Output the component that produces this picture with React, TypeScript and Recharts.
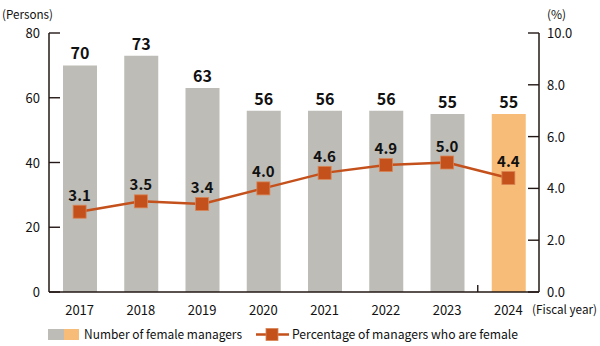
import React from 'react';
import { ComposedChart, Bar, Line, XAxis, YAxis, Cell, LabelList } from 'recharts';

const years = ['2017', '2018', '2019', '2020', '2021', '2022', '2023', '2024'];
const femaleManagers = [70, 73, 63, 56, 56, 56, 55, 55];
const femaleRatio = [3.1, 3.5, 3.4, 4.0, 4.6, 4.9, 5.0, 4.4];
const leftTicks = [0, 20, 40, 60, 80];
const rightTicks = [0, 2, 4, 6, 8, 10];

const data = years.map((y, i) => ({ year: y, managers: femaleManagers[i], ratio: femaleRatio[i] }));

const FONT = '"Noto Sans CJK JP", "Noto Sans", sans-serif';
const AXIS = '#231815';
const GRAY = '#BDBCB6';
const ORANGE = '#F7BD78';
const RED = '#C4501B';

const LeftTick = (props: any) => {
  const { x, y, payload } = props;
  return (
    <g>
      <line x1={x} x2={x + 11} y1={y} y2={y} stroke={AXIS} strokeWidth={1.4} />
      <text x={x - 9} y={y} dy={5} textAnchor="end" fontSize={13} fill="#111" fontFamily={FONT}>
        {payload.value}
      </text>
    </g>
  );
};

const RightTick = (props: any) => {
  const { x, y, payload } = props;
  return (
    <g>
      <line x1={x - 11} x2={x} y1={y} y2={y} stroke={AXIS} strokeWidth={1.4} />
      <text x={x + 8} y={y} dy={5} textAnchor="start" fontSize={13} fill="#111" fontFamily={FONT}>
        {Number(payload.value).toFixed(1)}
      </text>
    </g>
  );
};

const XTick = (props: any) => {
  const { x, y, payload, index } = props;
  const band = 490 / years.length;
  return (
    <g>
      {index === years.length - 1 && (
        <line x1={x - band / 2} x2={x - band / 2} y1={y} y2={y - 7} stroke={AXIS} strokeWidth={1.4} />
      )}
      <text x={x} y={y} dy={23} textAnchor="middle" fontSize={13} fill="#111" fontFamily={FONT}>
        {payload.value}
      </text>
    </g>
  );
};

const SquareDot = (props: any) => {
  const { cx, cy, index } = props;
  return (
    <rect key={`dot-${index}`} x={cx - 6.5} y={cy - 6.5} width={13} height={13} fill={RED} stroke="#D98455" strokeWidth={0.8} />
  );
};

export default function App() {
  return (
    <div style={{ position: 'absolute', left: 0, top: 0, width: 600, height: 346, fontFamily: FONT, background: '#fff' }}>
      <ComposedChart
        width={600}
        height={346}
        data={data}
        margin={{ top: 33, right: 0, left: 0, bottom: 24 }}
      >
        <XAxis
          dataKey="year"
          height={30}
          tick={<XTick />}
          tickLine={false}
          tickSize={0}
          tickMargin={0}
          axisLine={{ stroke: AXIS, strokeWidth: 1.5 }}
          interval={0}
        />
        <YAxis
          yAxisId="left"
          orientation="left"
          width={49}
          domain={[0, 80]}
          ticks={leftTicks}
          tick={<LeftTick />}
          tickLine={false}
          tickSize={0}
          tickMargin={0}
          axisLine={{ stroke: AXIS, strokeWidth: 1.5 }}
          interval={0}
        />
        <YAxis
          yAxisId="right"
          orientation="right"
          width={61}
          domain={[0, 10]}
          ticks={rightTicks}
          tick={<RightTick />}
          tickLine={false}
          tickSize={0}
          tickMargin={0}
          axisLine={{ stroke: AXIS, strokeWidth: 1.5 }}
          interval={0}
        />
        <Bar yAxisId="left" dataKey="managers" barSize={34} isAnimationActive={false}>
          {data.map((d, i) => (
            <Cell key={d.year} fill={i === data.length - 1 ? ORANGE : GRAY} />
          ))}
          <LabelList
            dataKey="managers"
            position="top"
            offset={6}
            fontSize={16}
            fontWeight="bold"
            fill="#111"
            fontFamily={FONT}
          />
        </Bar>
        <Line
          yAxisId="right"
          dataKey="ratio"
          stroke={RED}
          strokeWidth={2.5}
          dot={<SquareDot />}
          activeDot={false}
          isAnimationActive={false}
        >
          <LabelList
            dataKey="ratio"
            position="top"
            offset={11}
            fontSize={15}
            fontWeight="bold"
            fill="#111"
            fontFamily={FONT}
            formatter={(v: any) => Number(v).toFixed(1)}
          />
        </Line>
      </ComposedChart>
      <svg width={600} height={346} style={{ position: 'absolute', left: 0, top: 0, pointerEvents: 'none' }}>
        <text x={2} y={19} fontSize={12} fill="#111" fontFamily={FONT} textLength={51} lengthAdjust="spacingAndGlyphs">(Persons)</text>
        <text x={547} y={19} fontSize={12} fill="#111" fontFamily={FONT}>(%)</text>
        <text x={532} y={314} fontSize={12} fill="#111" fontFamily={FONT} textLength={65} lengthAdjust="spacingAndGlyphs">(Fiscal year)</text>
        <rect x={48} y={329} width={16} height={11} fill={GRAY} />
        <rect x={64} y={329} width={15} height={11} fill={ORANGE} />
        <text x={84} y={339} fontSize={12.5} fill="#111" fontFamily={FONT} textLength={158} lengthAdjust="spacingAndGlyphs">Number of female managers</text>
        <line x1={256} x2={289} y1={334.5} y2={334.5} stroke={RED} strokeWidth={2.5} />
        <rect x={266} y={328.5} width={12} height={12} fill={RED} stroke="#D98455" strokeWidth={0.8} />
        <text x={292} y={339} fontSize={12.5} fill="#111" fontFamily={FONT} textLength={226} lengthAdjust="spacingAndGlyphs">Percentage of managers who are female</text>
      </svg>
    </div>
  );
}
